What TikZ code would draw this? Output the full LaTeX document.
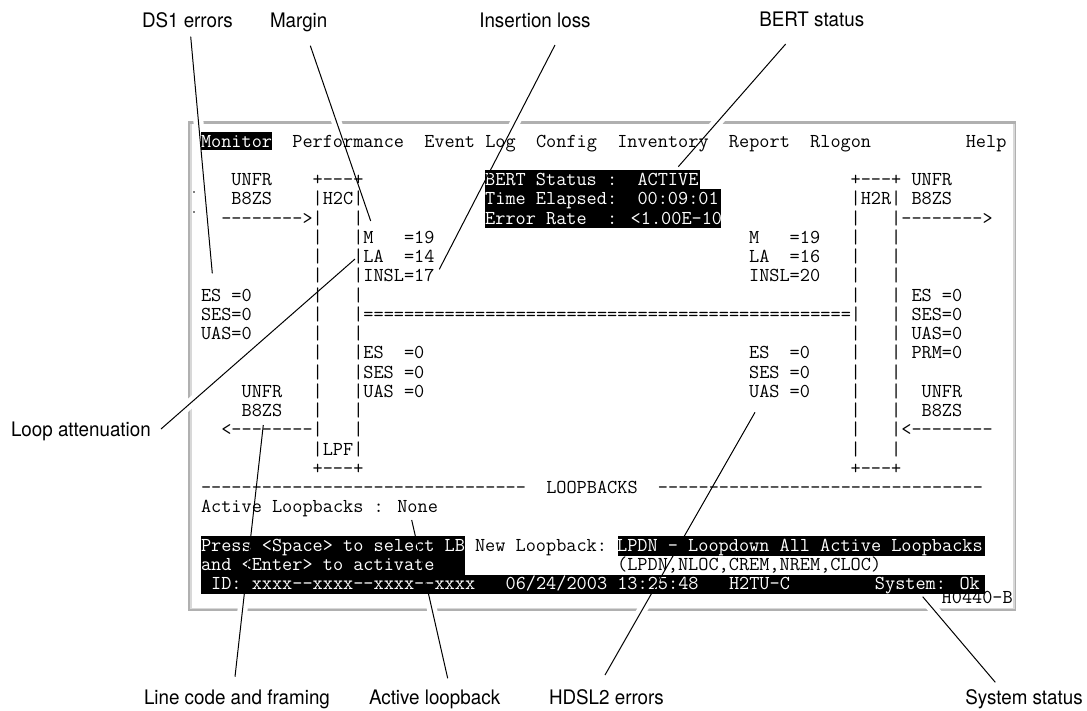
\documentclass[tikz,border=0pt]{standalone}
\usepackage{fontspec}
\newfontfamily\labfont[FakeStretch=0.94]{TeX Gyre Heros}
\definecolor{framedark}{HTML}{B0B0B0}
\definecolor{framelight}{HTML}{D8D8D8}
\newcommand\termfont{\ttfamily\fontsize{19.72}{19.72}\selectfont\fontdimen2\font=10.15pt\fontdimen3\font=0pt\fontdimen4\font=0pt\spaceskip=10.15pt\relax}
\tikzset{
  term/.style={anchor=base west,inner sep=0pt,outer sep=0pt,text=black,font=\termfont},
  termw/.style={term,text=white},
  callout/.style={anchor=base west,inner sep=0pt,outer sep=0pt,text=black,font=\labfont\fontsize{20}{20}\selectfont},
  leader/.style={draw=black,line width=1pt},
  halo/.style={draw=white,line width=10pt}
}
\newcommand\tl[4]{\node[term] (#1) at ({201+#2*10.15},{147+#3*19.25}) {#4};}
\newcommand\tw[4]{\node[termw] (#1) at ({201+#2*10.15},{147+#3*19.25}) {#4};}
\begin{document}
\begin{tikzpicture}[x=1pt,y=-1pt]
\useasboundingbox (0,0) rectangle (1087,710);
\fill[white] (0,0) rectangle (1087,710);
% window frame
\fill[framedark] (188,121) rectangle (1016,611);
\fill[framelight] (189.5,124) rectangle (1014.5,608.5);
\fill[white] (192,124) rectangle (1013,608);
% leader end points
\coordinate (dsA) at (190.7,36.7);   \coordinate (dsB) at (212.3,273.3);
\coordinate (mgA) at (310.3,45.7);   \coordinate (mgB) at (370.7,221);
\coordinate (inA) at (555,45);       \coordinate (inB) at (439.3,269.3);
\coordinate (btA) at (785.7,44);     \coordinate (btB) at (678.3,166.7);
\coordinate (laA) at (161,429);      \coordinate (laB) at (355,259);
\coordinate (lcA) at (235,676.7);    \coordinate (lcB) at (263.3,425);
\coordinate (alA) at (447.7,678.3);  \coordinate (alB) at (411.7,520);
\coordinate (hdA) at (605,675);      \coordinate (hdB) at (755,412.3);
\coordinate (ssA) at (995.3,682.3);  \coordinate (ssB) at (922.7,596.7);
% gaps in the frame where the leaders cross it
\foreach \a/\b in {dsA/dsB,mgA/mgB,inA/inB,btA/btB,laA/laB,lcA/lcB,alA/alB,hdA/hdB,ssA/ssB}
  \draw[halo] (\a) -- (\b);
% specks
\fill[gray] (193,191) rectangle (195,193);
\fill[gray] (193,211) rectangle (195,213);
% black bars
\fill[black] (200.7,131.7) rectangle (271.7,150);
\fill[black] (485,170) rectangle (700,189.5);
\fill[black] (485,189) rectangle (720.5,227.5);
\fill[black] (200.7,536) rectangle (465,594);
\fill[black] (200.7,575) rectangle (985,594);
\fill[black] (618,536) rectangle (985,555.5);
% menu
\tw{monitor}{0}{0}{Monitor}
\tl{menu}{9}{0}{Performance~~Event Log~~Config~~Inventory~~Report~~Rlogon}
\tl{help}{75.35}{0}{Help}
% left block
\tl{l2}{3}{2}{UNFR~~~~+---+}
\tl{l3}{3}{3}{B8ZS~~~~|H2C|}
\tl{l4}{2}{4}{-------->|~~~|}
\tl{l5}{11}{5}{|~~~|M~~~=19}
\tl{l6}{11}{6}{|~~~|LA~~=14}
\tl{l7}{11}{7}{|~~~|INSL=17}
\tl{l8}{0}{8}{ES~=0~~~~~~|~~~|}
\tl{l9}{0}{9}{SES=0~~~~~~|~~~|================================================|}
\tl{l10}{0}{10}{UAS=0~~~~~~|~~~|}
\tl{l11}{11}{11}{|~~~|ES~~=0}
\tl{l12}{11}{12}{|~~~|SES~=0}
\tl{l13}{4}{13}{UNFR~~~|~~~|UAS~=0}
\tl{l14}{4}{14}{B8ZS~~~|~~~|}
\tl{l15}{2}{15}{<--------|~~~|}
\tl{l16}{11}{16}{|LPF|}
\tl{l17}{11}{17}{+---+}
% BERT status
\tw{b2}{28}{2}{BERT Status :~~ACTIVE}
\tw{b3}{28}{3}{Time Elapsed:~~00:09:01}
\tw{b4}{28}{4}{Error Rate~~: <1.00E-10}
% H2R side values
\tl{m5}{54}{5}{M~~~=19}
\tl{m6}{54}{6}{LA~~=16}
\tl{m7}{54}{7}{INSL=20}
\tl{m11}{54}{11}{ES~~=0}
\tl{m12}{54}{12}{SES~=0}
\tl{m13}{54}{13}{UAS~=0}
% right block
\tl{r2}{64}{2}{+---+ UNFR}
\tl{r3}{64}{3}{|H2R| B8ZS}
\tl{r4}{64}{4}{|~~~|-------->}
\tl{r5}{64}{5}{|~~~|}
\tl{r6}{64}{6}{|~~~|}
\tl{r7}{64}{7}{|~~~|}
\tl{r8}{64}{8}{|~~~| ES~=0}
\tl{r9}{68}{9}{| SES=0}
\tl{r10}{64}{10}{|~~~| UAS=0}
\tl{r11}{64}{11}{|~~~| PRM=0}
\tl{r12}{64}{12}{|~~~|}
\tl{r13}{64}{13}{|~~~|~~UNFR}
\tl{r14}{64}{14}{|~~~|~~B8ZS}
\tl{r15}{64}{15}{|~~~|<--------}
\tl{r16}{64}{16}{|~~~|}
\tl{r17}{64}{17}{+---+}
% loopbacks
\tl{lb}{0}{18}{--------------------------------~~LOOPBACKS~~--------------------------------}
\tl{act}{0}{19}{Active Loopbacks : None}
\tw{pr1}{0}{21}{Press <Space> to select LB}
\tl{nl}{27}{21}{New Loopback:}
\tw{lpdn}{41}{21}{LPDN - Loopdown All Active Loopbacks}
\tw{pr2}{0}{22}{and <Enter> to activate}
\tl{opts}{41}{22}{(LPDN,NLOC,CREM,NREM,CLOC)}
\tw{stat}{1}{23}{ID: xxxx--xxxx--xxxx--xxxx~~~06/24/2003 13:25:48~~~H2TU-C}
\tw{sys}{66.4}{23}{System: Ok}
\node[term] (fig) at (941.7,603) {H0440-B};
% callouts
\node[callout] (tds) at (142,27.3) {DS1 errors};
\node[callout] (tmg) at (270,27.3) {Margin};
\node[callout] (tin) at (479.3,27.3) {Insertion loss};
\node[callout] (tbt) at (759.3,26.7) {BERT status};
\node[callout] (tla) at (11,436) {Loop attenuation};
\node[callout] (tlc) at (144,704.3) {Line code and framing};
\node[callout] (tal) at (369,704.3) {Active loopback};
\node[callout] (thd) at (549,704.3) {HDSL2 errors};
\node[callout] (tss) at (965.3,704.3) {System status};
% leaders
\foreach \a/\b in {dsA/dsB,mgA/mgB,inA/inB,btA/btB,laA/laB,lcA/lcB,alA/alB,hdA/hdB,ssA/ssB}
  \draw[leader] (\a) -- (\b);
\end{tikzpicture}
\end{document}
